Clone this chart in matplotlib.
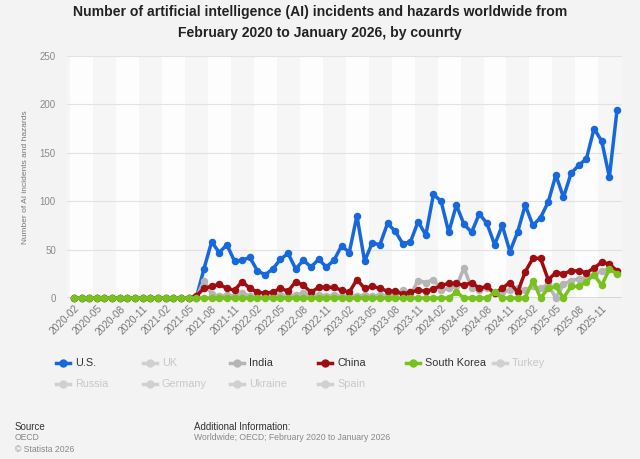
import matplotlib
matplotlib.use("Agg")
import matplotlib.pyplot as plt
from matplotlib.lines import Line2D
import pandas as pd

plt.rcParams['font.family'] = ['Liberation Sans', 'DejaVu Sans']

months = pd.period_range("2020-02", "2026-01", freq="M").strftime("%Y-%m").tolist()

us = [0]*17 + [30, 58, 47, 55, 38, 39, 42, 28, 24, 30, 40, 46, 30, 39, 32, 40, 32, 39,
              54, 47, 85, 38, 57, 55, 77, 69, 56, 58, 79, 65, 107, 100, 68, 96, 76, 68,
              87, 77, 55, 75, 48, 68, 96, 75, 83, 99, 127, 104, 129, 137, 144, 175, 162,
              125, 194]
china = [0]*16 + [2, 10, 12, 14, 10, 8, 17, 10, 6, 5, 6, 10, 7, 17, 13, 6, 11, 11, 11,
                  8, 6, 19, 10, 12, 10, 7, 7, 4, 6, 8, 7, 9, 13, 15, 15, 13, 16, 10, 12, 5,
                  10, 16, 6, 27, 41, 41, 19, 26, 25, 28, 28, 26, 31, 37, 35, 28]
india = [0]*17 + [18, 4, 2, 3, 2, 5, 2, 1, 1, 2, 3, 2, 3, 5, 2, 3, 2, 3, 2, 3, 2, 3, 2,
                  3, 2, 4, 8, 3, 18, 16, 19, 8, 10, 12, 31, 10, 8, 10, 5, 6, 8, 10, 8, 12,
                  10, 14, 0, 14, 18, 20, 21, 24, 28, 30, 26]
south_korea = [0]*50 + [6, 0, 0, 0, 0, 6, 0, 0, 0, 0, 18, 0, 10, 12, 0, 12, 12, 17, 24,
                        13, 30, 25]

legend_labels = ["U.S.", "UK", "India", "China", "South Korea", "Turkey",
                 "Russia", "Germany", "Ukraine", "Spain"]
legend_active = [True, False, True, True, True, False, False, False, False, False]

C_US = "#1768dd"
C_CN = "#a00d10"
C_SK = "#77c21d"
C_IN = "#b5b5b5"
C_OFF = "#d0d0d0"
BG = "#f3f3f3"

fig = plt.figure(figsize=(6.4, 4.59), dpi=100, facecolor=BG)
ax = fig.add_axes([67/640, 1-298/459, (622-67)/640, (298-56)/459])
ax.set_facecolor("#f6f6f6")

n = len(months)
x = list(range(n))
ax.set_xlim(-0.9, n - 0.35)
ax.set_ylim(0, 250)

# alternating stripes every 3 months
for k in range(0, n, 6):
    ax.axvspan(k - 0.45, k + 2.55, color="#fdfdfd", zorder=0, lw=0)

for yv in [50, 100, 150, 200, 250]:
    ax.axhline(yv, color="#e2e2e2", lw=0.8, zorder=1)
ax.axhline(0, color="#555555", lw=1.0, zorder=2)

kw = dict(lw=2.5, marker="o", markersize=4.4, clip_on=False, solid_joinstyle="round")
ax.plot(x, us, color=C_US, zorder=3, **kw)
ax.plot(x, india, color=C_IN, zorder=4, **kw)
ax.plot(x, china, color=C_CN, zorder=5, **kw)
ax.plot(x, south_korea, color=C_SK, zorder=6, **kw)

for s in ax.spines.values():
    s.set_visible(False)

ax.set_yticks([0, 50, 100, 150, 200, 250])
ax.tick_params(axis="y", length=0, labelsize=7, labelcolor="#8a8a8a", pad=8)
ax.set_xticks(x[::3])
ax.set_xticklabels(months[::3], rotation=45, ha="right", rotation_mode="anchor")
ax.tick_params(axis="x", length=0, labelsize=7.3, labelcolor="#777777", pad=4)
ax.set_ylabel("Number of AI incidents and hazards", fontsize=6, color="#777777", labelpad=8)

fig.text(0.5, 1-12/459, "Number of artificial intelligence (AI) incidents and hazards worldwide from",
         ha="center", va="center", fontsize=10.1, fontweight="bold", color="#222222")
fig.text(0.5, 1-33/459, "February 2020 to January 2026, by counrty",
         ha="center", va="center", fontsize=10.1, fontweight="bold", color="#222222")

# legend
colors_leg = [C_US, C_OFF, C_IN, C_CN, C_SK, C_OFF, C_OFF, C_OFF, C_OFF, C_OFF]
col_x = [63, 150, 237, 325, 413, 500]
row_y = [363, 384]
for i, lab in enumerate(legend_labels):
    r, c = divmod(i, 6)
    px, py = col_x[c], row_y[r]
    fx, fy = px/640, 1-py/459
    fig.add_artist(Line2D([fx-7/640, fx+7/640], [fy, fy], color=colors_leg[i], lw=2.5,
                          transform=fig.transFigure))
    fig.add_artist(Line2D([fx], [fy], color=colors_leg[i], marker="o", markersize=5,
                          transform=fig.transFigure))
    fig.text(fx+12/640, fy, lab, fontsize=7.8, va="center", ha="left",
             color="#333333" if legend_active[i] else "#c8c8c8")

fig.text(15/640, 1-427/459, "Source", fontsize=7, color="#333333", va="center")
fig.text(15/640, 1-438/459, "OECD", fontsize=6.2, color="#888888", va="center")
fig.text(15/640, 1-449/459, "© Statista 2026", fontsize=6.2, color="#888888", va="center")
fig.text(194/640, 1-427/459, "Additional Information:", fontsize=7, color="#333333", va="center")
fig.text(194/640, 1-438/459, "Worldwide; OECD; February 2020 to January 2026", fontsize=6.2,
         color="#888888", va="center")

fig.savefig("out.png", dpi=100, facecolor=BG)
